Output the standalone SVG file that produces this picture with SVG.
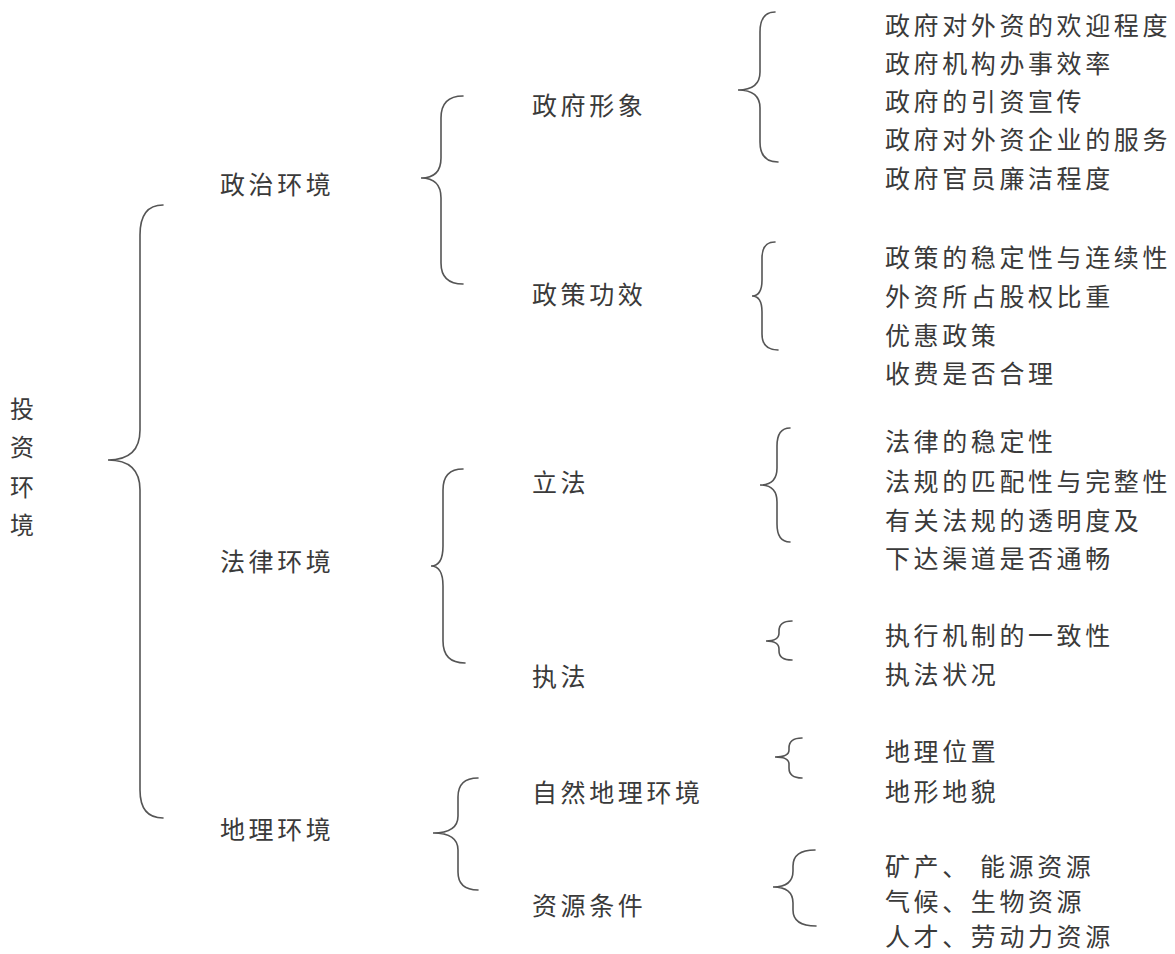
<svg xmlns="http://www.w3.org/2000/svg" width="1175" height="954" viewBox="0 0 1175 954">
<style>
text{font-family:"Noto Sans CJK SC","Noto Sans CJK JP",sans-serif;fill:#3a3a3a;font-size:25px;letter-spacing:3.6px;dominant-baseline:central}
.v{font-size:24px;letter-spacing:0}
.b{fill:none;stroke:#555;stroke-width:1.6;stroke-linecap:round}
</style>
<rect width="1175" height="954" fill="#fff"/>
<g id="connectors">
<path class="b" d="M163 205 Q140 205 140 235 L140 430 Q140 460 108 460 Q140 460 140 490 L140 790 Q140 818 163 818"/>
<path class="b" d="M463 96 Q441 96 441 118 L441 158 Q441 178 421 178 Q441 178 441 198 L441 263 Q441 284 463 284"/>
<path class="b" d="M463 469 Q443 469 443 490 L443 546 Q443 566 431 566 Q443 566 443 586 L443 641 Q443 663 465 663"/>
<path class="b" d="M478 778 Q458 778 458 797 L458 816 Q458 833 433 833 Q458 833 458 850 L458 872 Q458 890 478 890"/>
<path class="b" d="M775 12 Q760 12 760 32 L760 72 Q760 90 738 90 Q760 90 760 108 L760 142 Q760 162 778 162"/>
<path class="b" d="M775 242 Q762 242 762 258 L762 280 Q762 296 752 296 Q762 296 762 312 L762 334 Q762 350 778 350"/>
<path class="b" d="M790 428 Q777 428 777 446 L777 468 Q777 485 760 485 Q777 485 777 502 L777 524 Q777 542 790 542"/>
<path class="b" d="M792 621 Q779 621 779 631 L779 633 Q779 641 766 641 Q779 641 779 649 L779 651 Q779 660 792 660"/>
<path class="b" d="M802 738 Q789 738 789 748 L789 750 Q789 757 775 757 Q789 757 789 764 L789 768 Q789 778 802 778"/>
<path class="b" d="M815 850 Q793 850 793 866 L793 871 Q793 887 773 887 Q793 887 793 903 L793 910 Q793 926 816 926"/>
</g>
<g id="root"><text class="v" x="10" y="407">投</text><text class="v" x="10" y="445">资</text><text class="v" x="10" y="485">环</text><text class="v" x="10" y="523">境</text></g>
<g id="n-politics"><text x="220" y="183">政治环境</text></g>
<g id="n-law"><text x="220" y="560">法律环境</text></g>
<g id="n-geo"><text x="220" y="828">地理环境</text></g>
<g id="n-gov-image"><text x="532" y="104">政府形象</text></g>
<g id="n-policy"><text x="532" y="293">政策功效</text></g>
<g id="n-legis"><text x="532" y="481">立法</text></g>
<g id="n-enforce"><text x="532" y="675">执法</text></g>
<g id="n-natural"><text x="532" y="791">自然地理环境</text></g>
<g id="n-resource"><text x="532" y="904">资源条件</text></g>
<g id="l-gov-image">
<text x="885" y="24">政府对外资的欢迎程度</text>
<text x="885" y="62">政府机构办事效率</text>
<text x="885" y="100">政府的引资宣传</text>
<text x="885" y="138">政府对外资企业的服务</text>
<text x="885" y="177">政府官员廉洁程度</text>
</g>
<g id="l-policy">
<text x="885" y="256">政策的稳定性与连续性</text>
<text x="885" y="295">外资所占股权比重</text>
<text x="885" y="334">优惠政策</text>
<text x="885" y="372">收费是否合理</text>
</g>
<g id="l-legis">
<text x="885" y="440">法律的稳定性</text>
<text x="885" y="480">法规的匹配性与完整性</text>
<text x="885" y="519">有关法规的透明度及</text>
<text x="885" y="557">下达渠道是否通畅</text>
</g>
<g id="l-enforce">
<text x="885" y="634">执行机制的一致性</text>
<text x="885" y="673">执法状况</text>
</g>
<g id="l-natural">
<text x="885" y="750">地理位置</text>
<text x="885" y="790">地形地貌</text>
</g>
<g id="l-resource">
<text x="885" y="865">矿产、 能源资源</text>
<text x="885" y="900">气候、生物资源</text>
<text x="885" y="935">人才、劳动力资源</text>
</g>
</svg>
